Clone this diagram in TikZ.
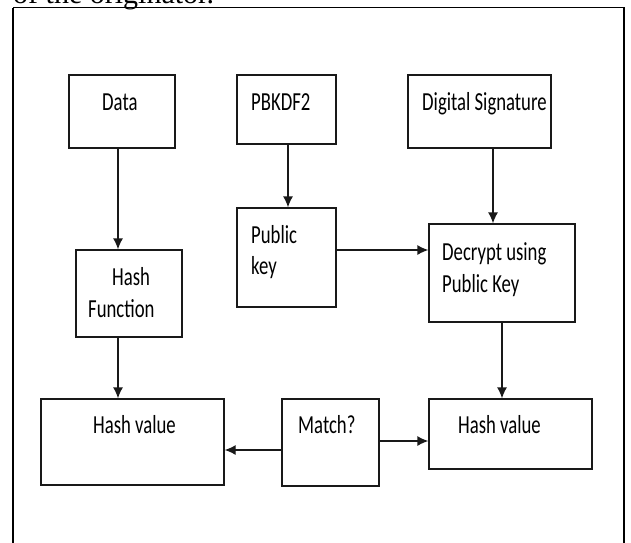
\documentclass[tikz,border=0pt]{standalone}
\usepackage{fontspec}
\setmainfont{Carlito}
\newfontfamily\bodyserif{Liberation Serif}
\usetikzlibrary{arrows.meta}
\newcommand\narrow[1]{\scalebox{0.72}[1]{#1}}
\begin{document}
\begin{tikzpicture}[x=1pt,y=-1pt,
  frame/.style={draw=black,line width=1.5pt},
  stepbox/.style={draw=black!90,line width=1.3pt,inner sep=0pt,rectangle},
  lbl/.style={anchor=base west,inner sep=0pt,text=black,
    font=\fontsize{26}{31}\selectfont},
  arr/.style={draw=black!90,line width=1.3pt,-{Latex[length=11pt,width=10pt]}}]
\clip (0,0) rectangle (631,542);
\fill[white] (0,0) rectangle (631,542);

% caption line of the surrounding text, mostly cut off at the top
\node[anchor=base west,inner sep=0pt,font=\bodyserif\fontsize{30}{36}\selectfont]
  (cap) at (13,3) {of the originator.};

% outer frame
\draw[frame] (13,7.5) -- (624,7.5) -- (624,560) (13,7.5) -- (13,560);

% boxes
\node[stepbox,minimum width=106pt,minimum height=73pt] (data)  at (122,111.5) {};
\node[stepbox,minimum width=99pt, minimum height=69pt] (pbk)   at (286.5,109.5) {};
\node[stepbox,minimum width=143pt,minimum height=73pt] (dsig)  at (479.5,111.5) {};
\node[stepbox,minimum width=99pt, minimum height=99pt] (pub)   at (286.5,257.5) {};
\node[stepbox,minimum width=146pt,minimum height=98pt] (dec)   at (502,273) {};
\node[stepbox,minimum width=106pt,minimum height=87pt] (hf)    at (129,293.5) {};
\node[stepbox,minimum width=183pt,minimum height=86pt] (hv1)   at (132.5,442) {};
\node[stepbox,minimum width=97pt, minimum height=87pt] (match) at (330.5,442.5) {};
\node[stepbox,minimum width=163pt,minimum height=70pt] (hv2)   at (510.5,434) {};

% labels
\node[lbl] (tdata)  at (102,110) {\narrow{Data}};
\node[lbl] (tpbk)   at (251,110) {\narrow{PBKDF2}};
\node[lbl] (tdsig)  at (422,110) {\narrow{Digital Signature}};
\node[lbl] (tpub1)  at (251,243) {\narrow{Public}};
\node[lbl] (tpub2)  at (251,274) {\narrow{key}};
\node[lbl] (tdec1)  at (442,260) {\narrow{Decrypt using}};
\node[lbl] (tdec2)  at (442,292) {\narrow{Public Key}};
\node[lbl] (thf1)   at (112,285) {\narrow{Hash}};
\node[lbl] (thf2)   at (88,317)  {\narrow{Function}};
\node[lbl] (thv1)   at (93,433)  {\narrow{Hash value}};
\node[lbl] (tmatch) at (298,433) {\narrow{Match?}};
\node[lbl] (thv2)   at (458,433) {\narrow{Hash value}};

% connectors
\draw[arr] ([xshift=-4pt]data.south) -- ([xshift=-4pt]data.south |- hf.north);
\draw[arr] ([xshift=1.5pt]pbk.south) -- ([xshift=1.5pt]pbk.south |- pub.north);
\draw[arr] ([xshift=13.5pt]dsig.south) -- ([xshift=13.5pt]dsig.south |- dec.north);
\draw[arr] ([yshift=7.5pt]pub.east) -- ([yshift=7.5pt]pub.east -| dec.west);
\draw[arr] (dec.south) -- (dec.south |- hv2.north);
\draw[arr] ([xshift=-11pt]hf.south) -- ([xshift=-11pt]hf.south |- hv1.north);
\draw[arr] ([yshift=-7.5pt]match.west) -- ([yshift=-7.5pt]match.west -| hv1.east);
\draw[arr] ([yshift=1.5pt]match.east) -- ([yshift=1.5pt]match.east -| hv2.west);
\end{tikzpicture}
\end{document}
